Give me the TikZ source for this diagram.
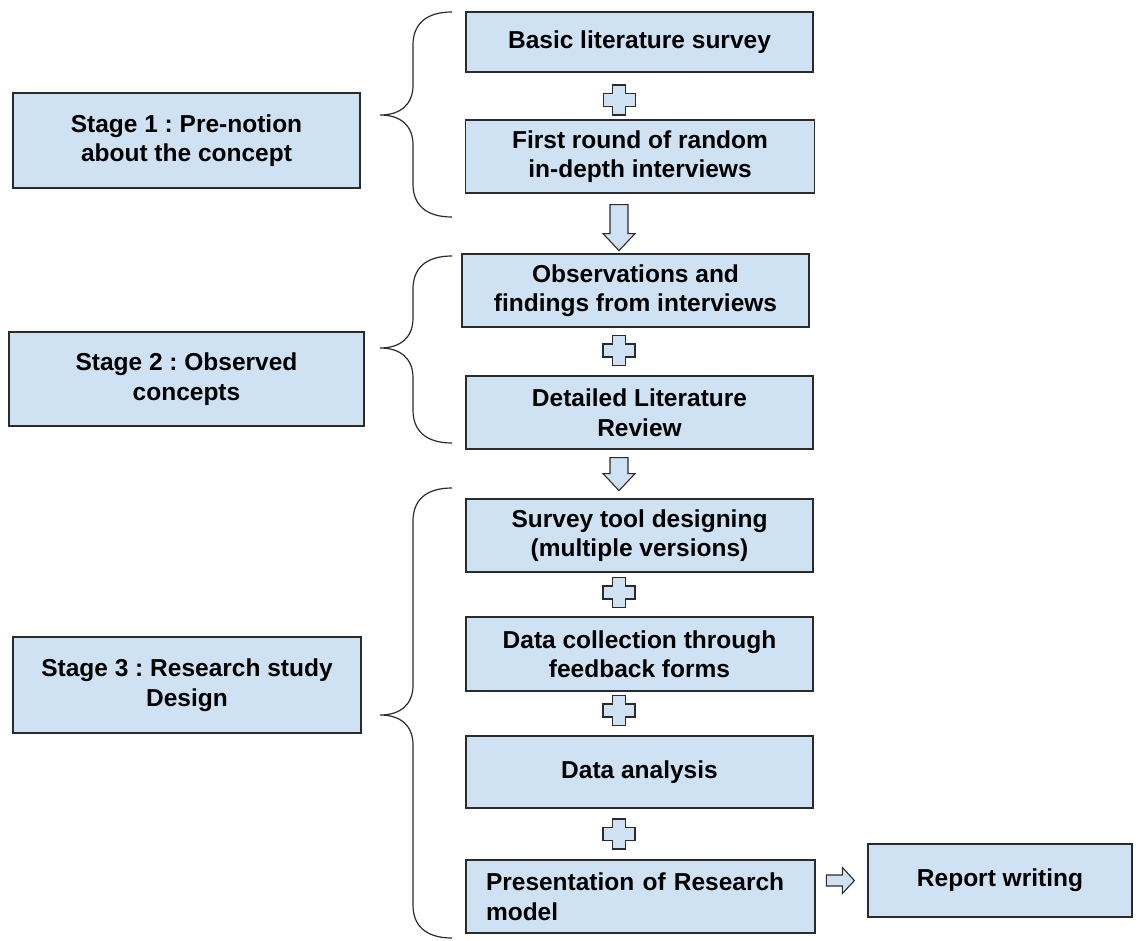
\documentclass[tikz,border=0pt]{standalone}
\usepackage{fontspec}
\setmainfont{Liberation Sans}
\usetikzlibrary{positioning,calc}
\frenchspacing
\definecolor{boxblue}{HTML}{CFE2F3}
\definecolor{edgegray}{HTML}{2B2B2B}
\tikzstyle{flowbox}=[draw=edgegray,fill=boxblue,line width=1.2pt,align=center,inner sep=0pt,
  minimum width=347,minimum height=73,font=\fontsize{24.5}{29.5}\selectfont\bfseries]
\tikzstyle{blockarrow}=[draw=edgegray,fill=boxblue,line width=1.1pt,line join=miter]
\tikzstyle{bracestyle}=[draw=edgegray,line width=1.2pt]
\newcommand{\plusblock}[1]{%
  \draw[blockarrow] #1 ++(-6.5,-15) -- ++(13,0) -- ++(0,8.5) -- ++(9.5,0) -- ++(0,13)
    -- ++(-9.5,0) -- ++(0,8.5) -- ++(-13,0) -- ++(0,-8.5) -- ++(-9.5,0) -- ++(0,-13)
    -- ++(9.5,0) -- cycle;}
\newcommand{\downblock}[2]{%
  \draw[blockarrow] #1 ++(-9,0) -- ++(18,0) -- ++(0,#2) -- ++(7,0) -- ++(-16,17)
    -- ++(-16,-17) -- ++(7,0) -- cycle;}
\newcommand{\stagebrace}[3]{%
  \draw[bracestyle] (452,#1) .. controls (425,#1) and (413,{#1+13}) .. (413,{#1+33})
    -- (413,{#2-30}) .. controls (413,{#2-10}) and (400,#2) .. (380,#2)
    .. controls (400,#2) and (413,{#2+10}) .. (413,{#2+30})
    -- (413,{#3-33}) .. controls (413,{#3-13}) and (425,#3) .. (452,#3);}

\begin{document}
\begin{tikzpicture}[x=1pt,y=-1pt]
  \useasboundingbox[fill=white] (0,0) rectangle (1140,940);

  % stages
  \node(stage1)[flowbox,minimum height=95] at (186.5,140.5) {Stage 1 : Pre-notion\\about the concept};
  \node(stage2)[flowbox,minimum width=355,minimum height=94] at (186.5,379) {Stage 2 : Observed\\concepts};
  \node(stage3)[flowbox,minimum width=348,minimum height=96] at (187,685) {Stage 3 : Research study\\Design};

  % steps
  \node(basic)[flowbox,minimum height=60] at (639.5,42) {Basic literature survey};
  \node(first)[flowbox,minimum width=349] at (640,156.5) {First round of random\\in-depth interviews};
  \node(obs)[flowbox] at (635.5,290.5) {Observations and\\findings from interviews};
  \node(detailed)[flowbox] at (639.5,412.5) {Detailed Literature\\Review};
  \node(survey)[flowbox] at (639.5,535.5) {Survey tool designing\\(multiple versions)};
  \node(collect)[flowbox,minimum height=74] at (639.5,654) {Data collection through\\feedback forms};
  \node(analysis)[flowbox,minimum height=72] at (639.5,772) {Data analysis};
  \node(present)[flowbox,minimum width=349,text width=309,align=left] at (640.5,896.5) {Presentation of Research\\model};
  \node(report)[flowbox,minimum width=264] at (1000,880.5) {Report writing};

  % plus signs and block arrows
  \plusblock{($(basic.south)!.5!(first.north)+(-20.5,4)$)}
  \plusblock{($(obs.south)!.5!(detailed.north)+(-18.5,-1)$)}
  \plusblock{($(survey.south)!.5!(collect.north)+(-20.5,-2)$)}
  \plusblock{($(collect.south)!.5!(analysis.north)+(-20.5,-3)$)}
  \plusblock{($(analysis.south)!.5!(present.north)+(-21,0)$)}
  \downblock{($(first.south)+(-21,11)$)}{29}
  \downblock{($(detailed.south)+(-20.5,8)$)}{16}
  \draw[blockarrow] ($(report.west)+(-41,0)$) ++(0,-5.5) -- ++(16,0) -- ++(0,-7.5)
    -- ++(12,13) -- ++(-12,13) -- ++(0,-7.5) -- ++(-16,0) -- cycle;

  % braces
  \stagebrace{12}{115}{217}
  \stagebrace{256}{348}{443}
  \stagebrace{488}{715}{938}
\end{tikzpicture}
\end{document}
